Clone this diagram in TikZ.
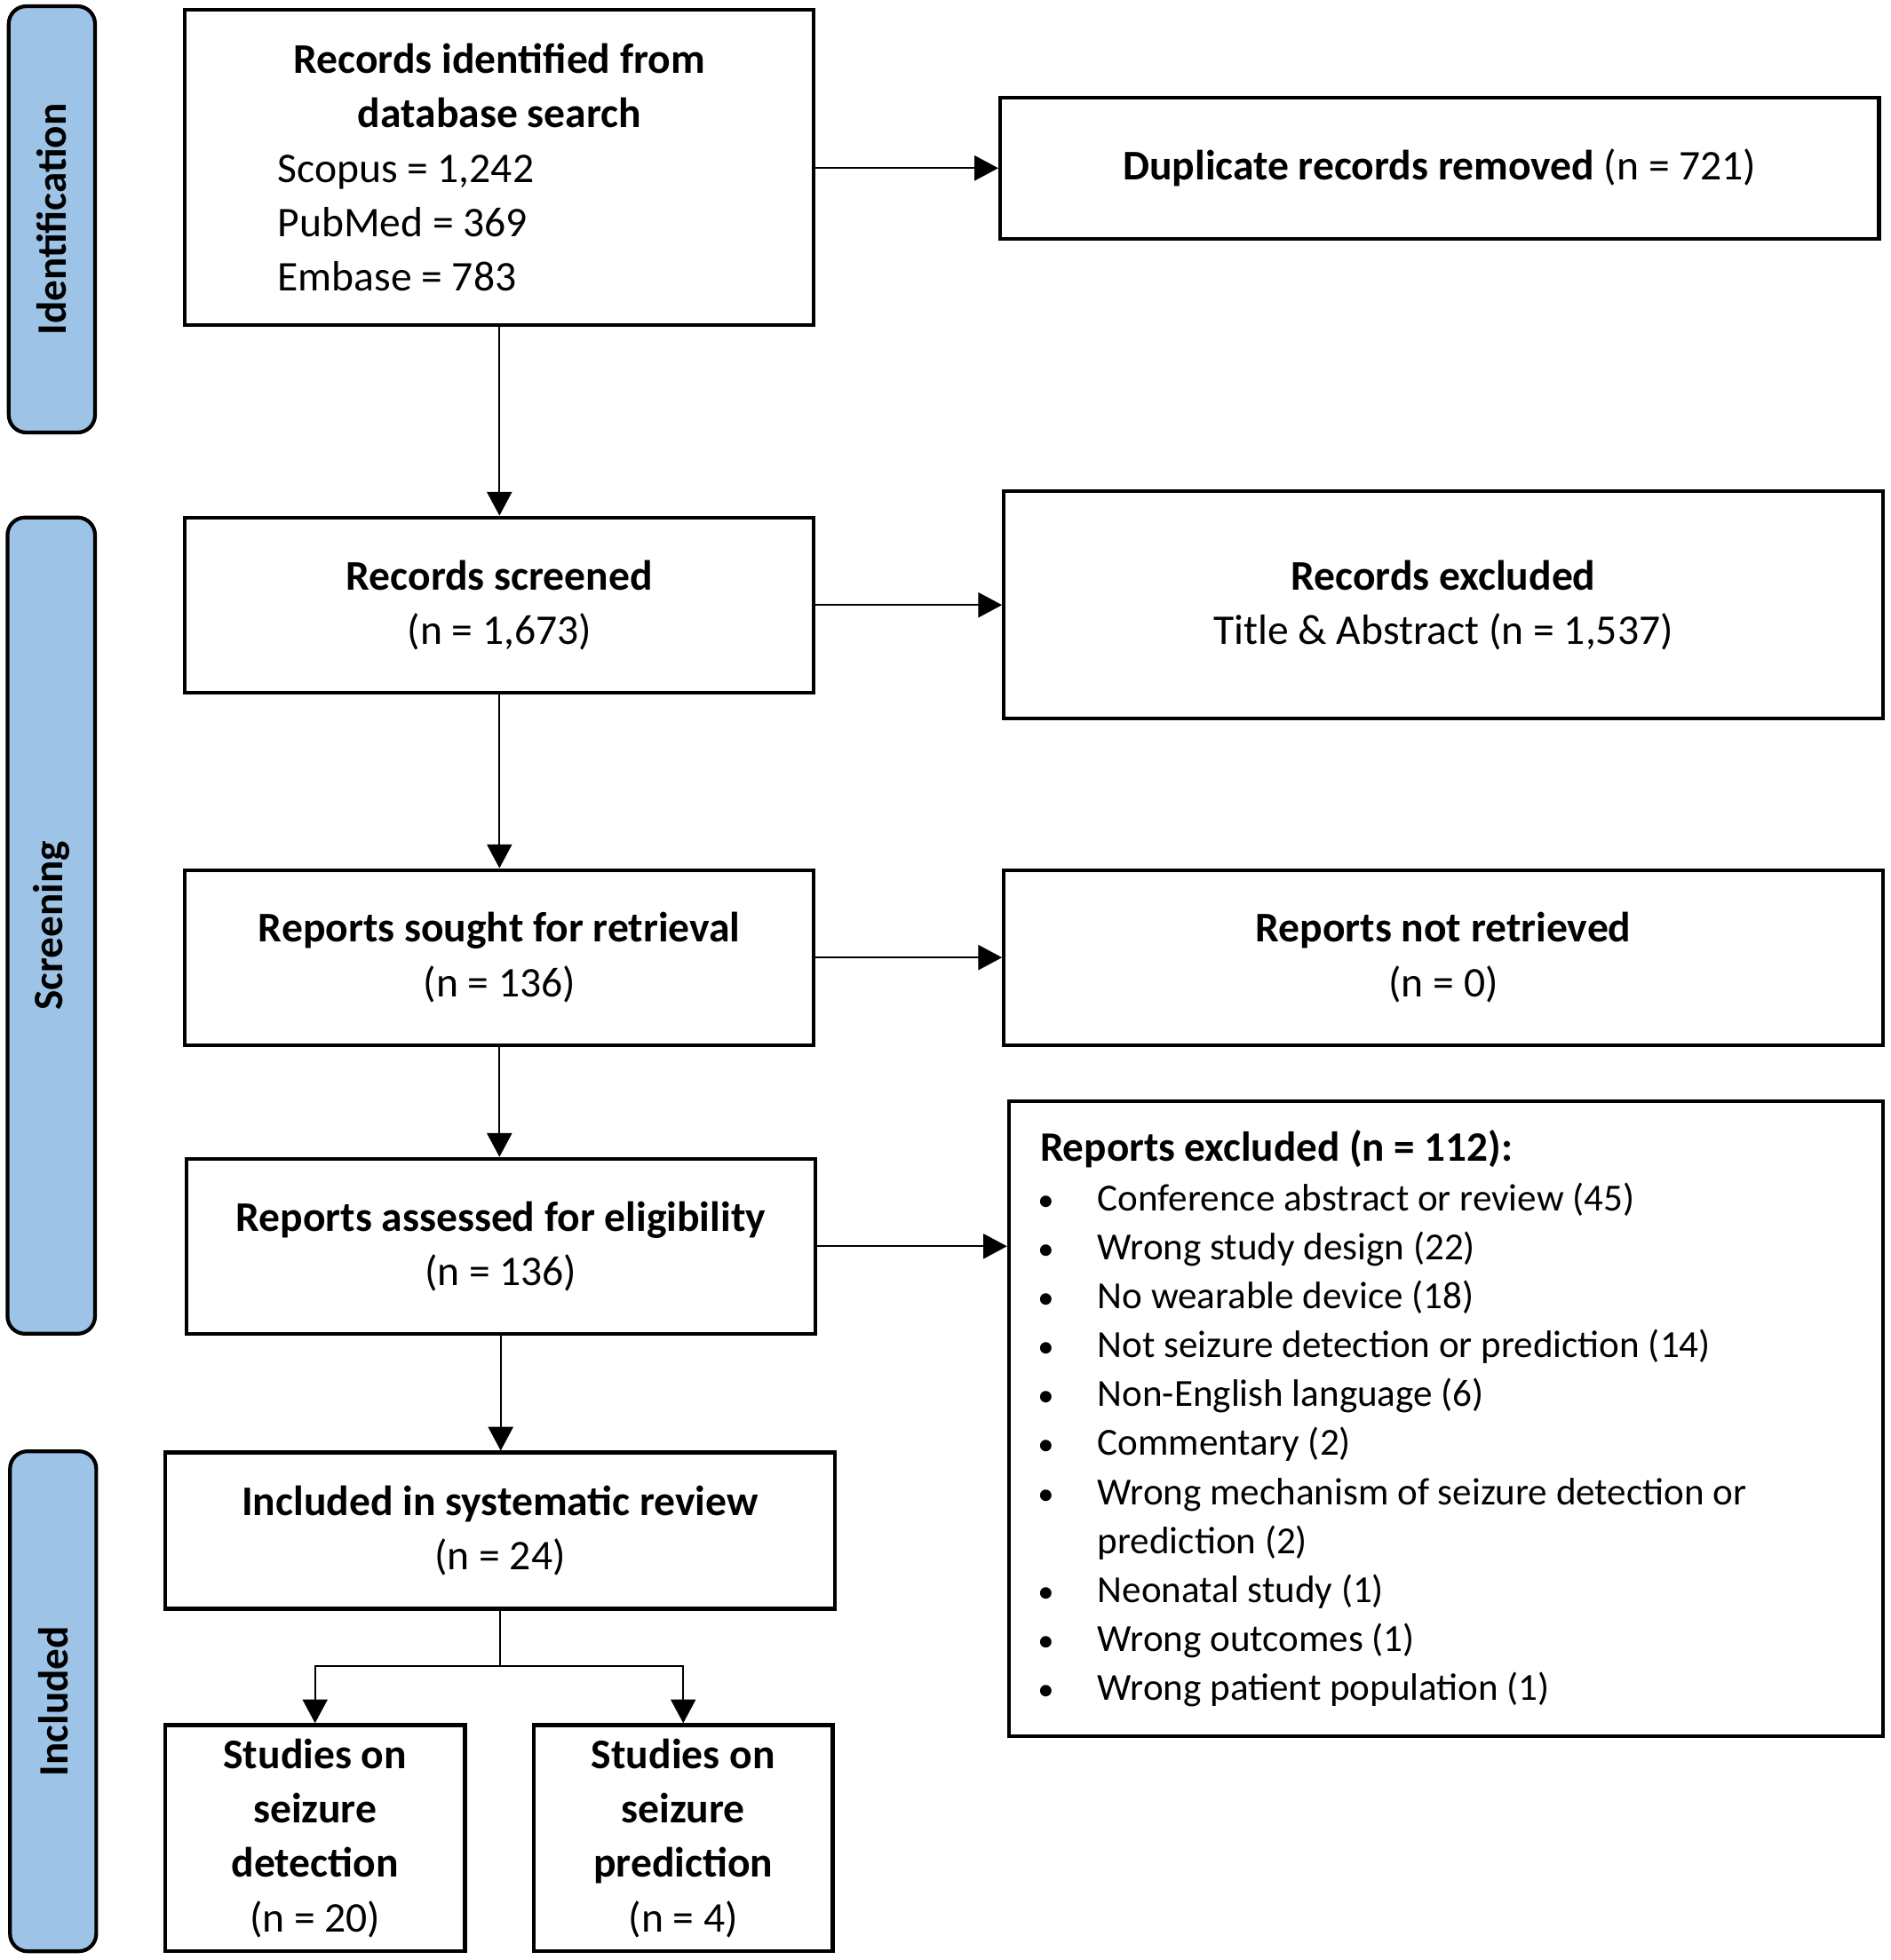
\documentclass[tikz,border=0pt]{standalone}
\usepackage{fontspec}
\setmainfont{Carlito}
\usetikzlibrary{arrows.meta}
\definecolor{tabblue}{RGB}{157,195,230}
\newcommand{\exitem}[1]{\hspace*{23pt}\makebox[48pt][l]{\fontsize{26}{26}\selectfont•}{\fontsize{30.6}{39.2}\selectfont #1}}
\begin{document}
\begin{tikzpicture}[x=1pt,y=-1pt,
  box/.style={draw=black, line width=3pt, inner sep=0pt, align=center,
    font=\fontsize{33.8}{43.5}\selectfont},
  tab/.style={draw=black, line width=3pt, fill=tabblue, rounded corners=14pt,
    inner sep=0pt, rotate=90, font=\fontsize{33.5}{40}\selectfont\bfseries},
  arr/.style={line width=1.3pt, -{Triangle[length=19pt,width=20pt]}},
  ln/.style={line width=1.3pt}]
\useasboundingbox (0,0) rectangle (1512,1568);

% phase tabs
\node[tab, minimum width=341pt, minimum height=69pt] (tabid) at (41.5,175.5) {Identification};
\node[tab, minimum width=653pt, minimum height=70pt] (tabscr) at (41,740.5) {Screening};
\node[tab, minimum width=400pt, minimum height=69pt] (tabinc) at (42.5,1361) {Included};

% boxes
\node[box, minimum width=503pt, minimum height=252pt] (recid) at (399.5,134)
  {\textbf{Records identified from}\\ \textbf{database search}\\
   \makebox[355pt][l]{Scopus = 1,242}\\
   \makebox[355pt][l]{PubMed = 369}\\
   \makebox[355pt][l]{Embase = 783}};
\node[box, minimum width=703pt, minimum height=113pt] (dup) at (1151.5,134.5)
  {\textbf{Duplicate records removed} (n = 721)};
\node[box, minimum width=503pt, minimum height=140pt] (scr) at (399.5,484)
  {\textbf{Records screened}\\ (n = 1,673)};
\node[box, minimum width=703pt, minimum height=182pt] (exc1) at (1154.5,484)
  {\textbf{Records excluded}\\ Title \& Abstract (n = 1,537)};
\node[box, minimum width=503pt, minimum height=140pt] (sought) at (399.5,766)
  {\textbf{Reports sought for retrieval}\\ (n = 136)};
\node[box, minimum width=703pt, minimum height=140pt] (notr) at (1154.5,766)
  {\textbf{Reports not retrieved}\\ (n = 0)};
\node[box, minimum width=503pt, minimum height=140pt] (assess) at (400.5,997)
  {\textbf{Reports assessed for eligibility}\\ (n = 136)};
\node[box, align=flush left, text width=699pt, minimum height=508pt,
  font=\fontsize{33.5}{39.2}\selectfont] (exc2) at (1156.5,1135)
  {\hspace*{25pt}\textbf{Reports excluded (n = 112):}\\
   \exitem{Conference abstract or review (45)}\\
   \exitem{Wrong study design (22)}\\
   \exitem{No wearable device (18)}\\
   \exitem{Not seizure detection or prediction (14)}\\
   \exitem{Non-English language (6)}\\
   \exitem{Commentary (2)}\\
   \exitem{Wrong mechanism of seizure detection or}\\
   \hspace*{71pt}{\fontsize{30.6}{39.2}\selectfont prediction (2)}\\
   \exitem{Neonatal study (1)}\\
   \exitem{Wrong outcomes (1)}\\
   \exitem{Wrong patient population (1)}};
\node[box, minimum width=536pt, minimum height=125pt] (incl) at (400,1224.5)
  {\textbf{Included in systematic review}\\ (n = 24)};
\node[box, minimum width=240pt, minimum height=181pt] (det) at (252,1470.5)
  {\textbf{Studies on}\\ \textbf{seizure}\\ \textbf{detection}\\ (n = 20)};
\node[box, minimum width=239pt, minimum height=181pt] (pred) at (546.5,1470.5)
  {\textbf{Studies on}\\ \textbf{seizure}\\ \textbf{prediction}\\ (n = 4)};

% connectors
\draw[arr] (recid.east |- dup.west) -- (dup.west);
\draw[arr] (recid) -- (scr);
\draw[arr] (scr) -- (exc1);
\draw[arr] (scr) -- (sought);
\draw[arr] (sought) -- (notr);
\draw[arr] (sought.south) -- (assess.north -| sought.south);
\draw[arr] (assess.east) -- (assess.east -| exc2.west);
\draw[arr] (assess.south) -- (incl.north -| assess.south);
\coordinate (split) at (400,1333);
\draw[ln] (incl.south) -- (split);
\draw[arr] (split) -| (det.north);
\draw[arr] (split) -| (pred.north);
\end{tikzpicture}
\end{document}
